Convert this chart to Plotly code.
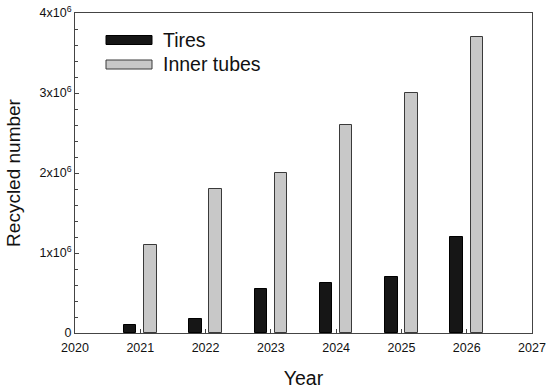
import plotly.graph_objects as go

years = [2021, 2022, 2023, 2024, 2025, 2026]
tires = [0.10e6, 0.18e6, 0.55e6, 0.62e6, 0.70e6, 1.20e6]
inner_tubes = [1.10e6, 1.80e6, 2.00e6, 2.60e6, 3.00e6, 3.70e6]
y_tickvals = [0, 1e6, 2e6, 3e6, 4e6]
y_ticktext = ["0", "1x10<sup>6</sup>", "2x10<sup>6</sup>", "3x10<sup>6</sup>", "4x10<sup>6</sup>"]
x_tickvals = [2020, 2021, 2022, 2023, 2024, 2025, 2026, 2027]

FONT = "Liberation Sans, Arial, sans-serif"

L, T, PW, PH = 75, 13, 457, 320
W, H = 550, 391

fig = go.Figure()
fig.add_trace(go.Bar(
    x=years, y=tires, name="Tires", width=0.19, offset=-0.25,
    marker=dict(color="#161616", line=dict(color="#000000", width=1)),
    showlegend=False,
))
fig.add_trace(go.Bar(
    x=years, y=inner_tubes, name="Inner tubes", width=0.19, offset=0.06,
    marker=dict(color="#c8c8c8", line=dict(color="#3a3a3a", width=1)),
    showlegend=False,
))

# manual legend with wide rectangular keys (positions in reference pixels)
legend_items = [("Tires", "#161616", "#000000", 40), ("Inner tubes", "#c8c8c8", "#3a3a3a", 64.5)]
for label, fill, edge, yc in legend_items:
    fig.add_shape(type="rect", xref="paper", yref="paper",
                  x0=(106 - L) / PW, x1=(152 - L) / PW,
                  y0=(333 - (yc + 4.5)) / PH, y1=(333 - (yc - 4.5)) / PH,
                  fillcolor=fill, line=dict(color=edge, width=1))
    fig.add_annotation(xref="paper", yref="paper", x=(161 - L) / PW, y=(333 - yc) / PH,
                       text=label, showarrow=False, xanchor="left", yanchor="middle",
                       font=dict(family=FONT, size=19.5, color="#111111"))

fig.update_layout(
    width=W, height=H,
    margin=dict(l=L, r=W - L - PW, t=T, b=H - T - PH),
    paper_bgcolor="white", plot_bgcolor="white",
    bargap=0, font=dict(family=FONT, color="#111111"),
    xaxis=dict(range=[2020, 2027], tickvals=x_tickvals, ticks="inside", ticklen=4,
               tickcolor="#444", showline=True, linecolor="#444", linewidth=1, mirror=True,
               showgrid=False, zeroline=False, tickfont=dict(size=12.5, family=FONT),
               automargin=False, ticklabelstandoff=3,
               title=dict(text="Year", font=dict(size=19.5, family=FONT), standoff=17)),
    yaxis=dict(range=[0, 4e6], tickvals=y_tickvals, ticktext=y_ticktext, ticks="inside",
               ticklen=4, tickcolor="#444", showline=True, linecolor="#444", linewidth=1,
               mirror=True, showgrid=False, zeroline=False, automargin=False,
               tickfont=dict(size=12.5, family=FONT),
               minor=dict(dtick=2e5, ticks="inside", ticklen=3, tickcolor="#444", showgrid=False),
               title=dict(text="Recycled number", font=dict(size=19, family=FONT), standoff=13)),
)

fig.write_html("out.html", config={"displayModeBar": False},
               post_script="document.body.style.margin='0';")
